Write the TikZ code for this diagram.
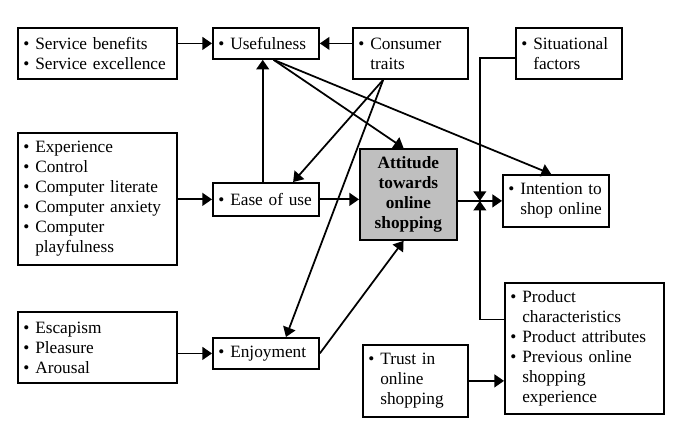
\documentclass[tikz,border=0pt]{standalone}
\usepackage{fontspec}
\setmainfont{Liberation Serif}
\usetikzlibrary{arrows.meta,calc}
\newcommand{\bul}{\textbullet\ }
\newcommand{\ind}{\hphantom{\textbullet\ }}

\begin{document}
\begin{tikzpicture}[x=0.625pt,y=-0.625pt,
  box/.style={draw,line width=1.1pt,anchor=north west,align=left,inner xsep=3.5pt,inner ysep=0pt,
    font=\fontsize{10.8}{12.5}\selectfont},
  arr/.style={line width=1.1pt,-{Triangle[length=6pt,width=8pt]}}]
\useasboundingbox (0,0) rectangle (676,426);
% left column
\node[box,text width=92.4pt,minimum height=31.9pt] (serv) at (17,27) {\bul Service~benefits\\\bul Service~excellence};
\node[box,text width=92.4pt,minimum height=82.5pt] (exp) at (17,132)
  {\bul Experience\\\bul Control\\\bul Computer~literate\\\bul Computer~anxiety\\\bul Computer\\\ind playfulness};
\node[box,text width=92.4pt,minimum height=44.4pt] (esc) at (17,311) {\bul Escapism\\\bul Pleasure\\\bul Arousal};
% middle column
\node[box,text width=59.3pt,minimum height=19.4pt] (usef) at (212,27) {\bul Usefulness};
\node[box,text width=59.3pt,minimum height=20.6pt] (ease) at (212,182) {\bul Ease~of~use};
\node[box,text width=59.3pt,minimum height=19.4pt] (enj) at (212,337) {\bul Enjoyment};
% centre
\node[box,text width=64.9pt,minimum height=31.9pt] (cons) at (352,27) {\bul Consumer\\\ind traits};
\node[box,text width=53.6pt,minimum height=56.9pt,align=center,fill=gray!50,
  font=\fontsize{10.8}{12.5}\selectfont\bfseries] (att) at (359,148) {Attitude\\towards\\online\\shopping};
\node[box,text width=58.6pt,minimum height=45pt] (trust) at (362,344) {\bul Trust~in\\\ind online\\\ind shopping};
% right column
\node[box,text width=59.3pt,minimum height=31.9pt] (sit) at (515,27) {\bul Situational\\\ind factors};
\node[box,text width=59.3pt,minimum height=32.5pt] (int) at (502,174) {\bul Intention~to\\\ind shop~online};
\node[box,text width=92.4pt,minimum height=81.9pt] (prod) at (504,282)
  {\bul Product\\\ind characteristics\\\bul Product~attributes\\\bul Previous~online\\\ind shopping\\\ind experience};

\coordinate (cb) at ([xshift=-17pt]cons.south);
\coordinate (jn) at ($(att.east |- int)!0.5!(int.west)$);

% inputs
\draw[arr] (serv.east |- usef) -- (usef.west);
\draw[arr] (cons.west |- usef) -- (usef.east);
\draw[arr] (exp.east |- ease) -- (ease.west);
\draw[arr] (esc.east |- enj) -- (enj.west);
\draw[arr] ([xshift=-2pt]ease.north) -- ([xshift=-2pt]usef.south);
\draw[arr] (cb) -- ([xshift=17pt]ease.north);
\draw[arr] (cb) -- ([xshift=12.5pt]enj.north);
% towards attitude and intention
\draw[arr] (usef.-65) -- ([xshift=-3pt]att.north);
\draw[arr] (usef.-65) -- ([xshift=-3pt]int.north);
\draw[arr] (ease) -- (att.west |- ease);
\draw[arr] (enj.east) -- ([xshift=-3pt]att.south);
\draw[arr] (att.east |- int) -- (int.west);
\draw[arr] ([yshift=-3pt]sit.west) -| (jn);
\draw[arr] ([yshift=18pt]prod.west) -| (jn);
\draw[arr] (trust) -- (prod.west |- trust);
\end{tikzpicture}
\end{document}
